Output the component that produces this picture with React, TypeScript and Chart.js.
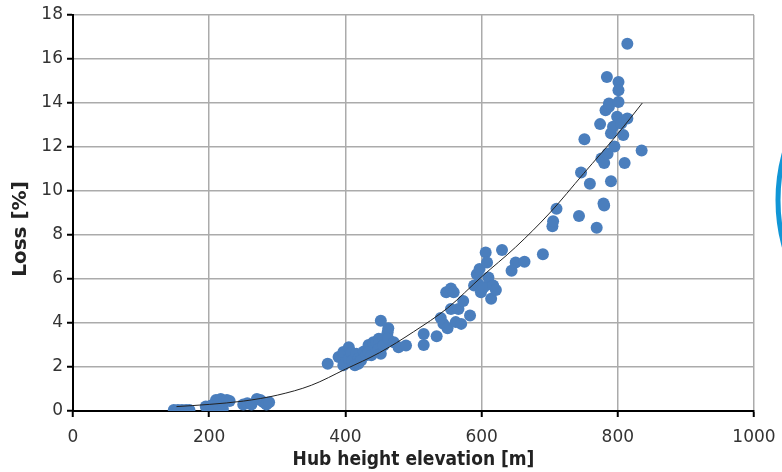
import React, { useEffect, useRef } from "react";
import { Chart, registerables } from "chart.js";

Chart.register(...registerables);

const heightX: number[] = [
  148, 154, 160, 166, 171,
  195, 200, 203, 207, 210, 213, 217, 220, 222, 226, 230,
  250, 256, 262, 270, 275, 280, 284, 288,
  374, 390, 397, 397, 405, 405, 409, 410, 414, 416, 419, 419, 423, 427, 430, 434, 434, 438, 441, 445, 449, 449, 452, 452, 456, 456, 462, 463, 463, 471, 478, 489,
  515, 515, 534, 540, 544, 548, 550, 555, 555, 559, 562, 566, 570, 573, 583, 589, 593, 595, 597, 599, 603, 606, 608, 610, 614, 617, 621,
  630, 644, 650, 663, 690, 704, 705, 710,
  743, 746, 751, 759, 769, 774, 776, 779, 780, 780, 782, 784, 785, 787, 787, 790, 790, 793, 795, 799, 801, 801, 801, 805, 808, 810, 814, 814, 835,
];
const lossY: number[] = [
  0.05, 0.05, 0.05, 0.05, 0.05,
  0.2, 0.1, 0.25, 0.05, 0.5, 0.3, 0.55, 0.1, 0.45, 0.5, 0.45,
  0.3, 0.35, 0.3, 0.55, 0.5, 0.4, 0.3, 0.4,
  2.15, 2.45, 2.08, 2.68, 2.9, 2.38, 2.65, 2.3, 2.08, 2.6, 2.38, 2.15, 2.3, 2.7, 2.53, 3.0, 2.68, 2.53, 3.13, 3.13, 3.28, 2.83, 4.1, 2.6, 3.28, 2.98, 3.58, 3.76, 3.28, 3.13, 2.9, 2.98,
  3.0, 3.5, 3.4, 4.23, 3.96, 5.4, 3.76, 5.57, 4.64, 5.4, 4.04, 4.64, 3.96, 5.0, 4.34, 5.7, 6.22, 5.77, 6.45, 5.4, 5.62, 7.2, 6.75, 6.07, 5.1, 5.7, 5.5,
  7.32, 6.37, 6.75, 6.78, 7.12, 8.4, 8.63, 9.19,
  8.86, 10.84, 12.35, 10.33, 8.33, 13.04, 11.48, 9.43, 9.34, 11.27, 13.67, 15.18, 11.69, 13.83, 13.98, 12.62, 10.44, 12.92, 12.02, 13.37, 14.95, 14.58, 14.05, 13.07, 12.55, 11.27, 13.3, 16.69, 11.84,
];

const trendX: number[] = [152, 200, 250, 300, 350, 400, 450, 500, 550, 600, 650, 700, 750, 800, 836];
const trendY: number[] = [0.2, 0.3, 0.45, 0.72, 1.17, 1.9, 2.65, 3.6, 4.68, 6.1, 7.45, 9.0, 10.8, 12.6, 14.0];

const xTicks: number[] = [0, 200, 400, 600, 800, 1000];
const yTicks: number[] = [0, 2, 4, 6, 8, 10, 12, 14, 16, 18];

const xTitle = "Hub height elevation [m]";
const yTitle = "Loss [%]";

const decorPlugin = {
  id: "decor",
  afterDraw(chart: any) {
    const ctx = chart.ctx;
    ctx.save();
    // partial logo arc at right edge
    ctx.beginPath();
    ctx.ellipse(858, 200, 80, 120, 0, 0, Math.PI * 2);
    ctx.strokeStyle = "#1196d6";
    ctx.lineWidth = 5;
    ctx.stroke();
    // y-axis title
    ctx.translate(21, 229);
    ctx.rotate(-Math.PI / 2);
    ctx.font = "bold 20px 'DejaVu Sans', sans-serif";
    ctx.fillStyle = "#222222";
    ctx.textAlign = "center";
    ctx.textBaseline = "middle";
    ctx.fillText(yTitle, 0, 0);
    ctx.restore();
  },
};

export default function App() {
  const ref = useRef<HTMLCanvasElement>(null);
  useEffect(() => {
    document.body.style.margin = "0";
    const points = heightX.map((x, i) => ({ x, y: lossY[i] }));
    const trend = trendX.map((x, i) => ({ x, y: trendY[i] }));
    const tickFont = { family: "'DejaVu Sans', sans-serif", size: 17 };
    const chart = new Chart(ref.current!, {
      type: "scatter",
      data: {
        datasets: [
          {
            label: "Trend",
            data: trend,
            showLine: true,
            borderColor: "#222222",
            borderWidth: 1,
            pointRadius: 0,
            cubicInterpolationMode: "monotone",
            order: 0,
          } as any,
          {
            label: "Loss",
            data: points,
            backgroundColor: "#4a7ebd",
            borderWidth: 0,
            pointRadius: 6,
            order: 1,
          },
        ],
      },
      options: {
        animation: false,
        responsive: false,
        layout: { padding: { top: 15, right: 28, left: 0, bottom: 0 } },
        plugins: { legend: { display: false }, tooltip: { enabled: false } },
        scales: {
          x: {
            type: "linear",
            min: 0,
            max: 1000,
            afterBuildTicks: (s: any) => { s.ticks = xTicks.map((v) => ({ value: v })); },
            afterFit: (s: any) => { s.height = 61; s.paddingRight = 0; s.paddingLeft = 0; },
            ticks: { font: tickFont, color: "#333333", padding: 10, maxRotation: 0, callback: (v: any) => String(v) },
            grid: { color: "#ababab", lineWidth: 1.5, tickColor: "#000000", tickLength: 6, tickWidth: 2 },
            border: { color: "#000000", width: 2 },
            title: {
              display: true,
              text: xTitle,
              font: { family: "'DejaVu Sans Condensed', 'DejaVu Sans', sans-serif", size: 19, weight: "bold" },
              color: "#222222",
              padding: { top: 0, bottom: 1 },
            },
          },
          y: {
            type: "linear",
            min: 0,
            max: 18,
            afterBuildTicks: (s: any) => { s.ticks = yTicks.map((v) => ({ value: v })); },
            afterFit: (s: any) => { s.width = 73; s.paddingTop = 0; s.paddingBottom = 0; },
            ticks: { font: tickFont, color: "#333333", padding: 4 },
            grid: { color: "#ababab", lineWidth: 1.5, tickColor: "#000000", tickLength: 6, tickWidth: 2 },
            border: { color: "#000000", width: 2 },
          },
        },
      },
      plugins: [decorPlugin],
    });
    return () => chart.destroy();
  }, []);
  return (
    <div style={{ width: 782, height: 472 }}>
      <canvas ref={ref} width={782} height={472} />
    </div>
  );
}
